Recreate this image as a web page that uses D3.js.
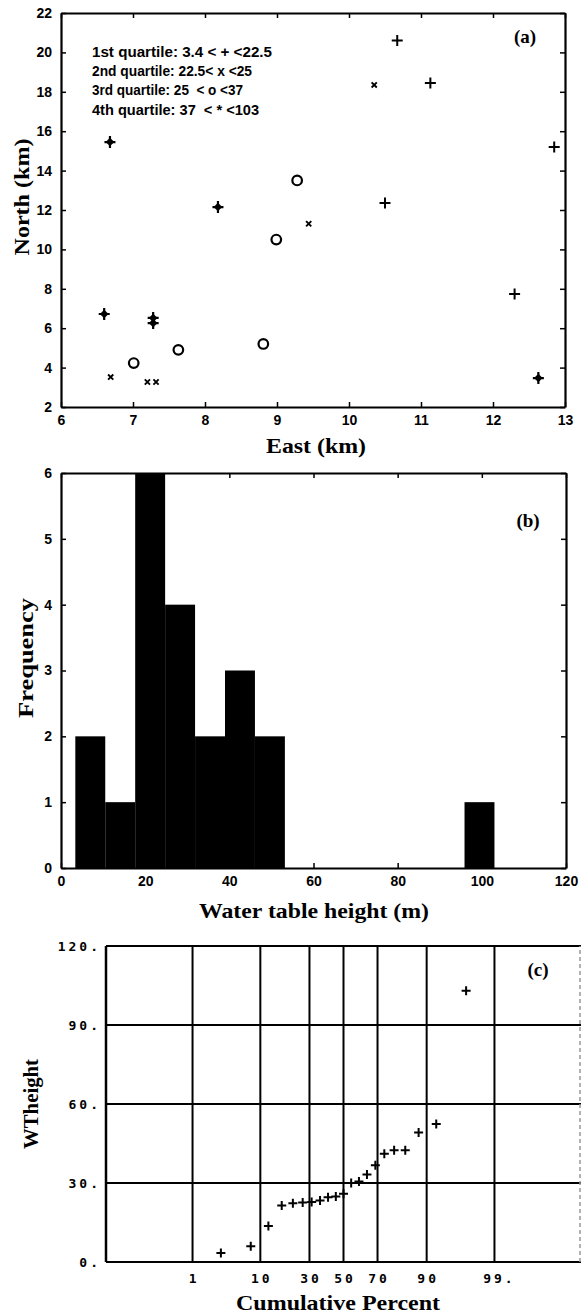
<!DOCTYPE html>
<html>
<head>
<meta charset="utf-8">
<script src="https://cdn.jsdelivr.net/npm/d3@7/dist/d3.min.js"></script>
<style>
  body { margin: 0; background: #fff; }
  svg { display: block; }
  .tick text { font-family: "Liberation Sans", Arial, sans-serif; font-weight: bold; font-size: 14px; fill: #000; }
  .title { font-family: "Liberation Serif", "Times New Roman", serif; font-weight: bold; font-size: 22px; fill: #000; }
  .panel { font-family: "Liberation Serif", "Times New Roman", serif; font-weight: bold; font-size: 19px; fill: #000; }
  .legend { font-family: "Liberation Sans Narrow", "Liberation Sans", Arial, sans-serif; font-weight: bold; font-size: 14px; white-space: pre; }
  .mono { font-family: "DejaVu Sans Mono", monospace; font-weight: bold; font-size: 13px; letter-spacing: 3px; fill: #000; }
</style>
</head>
<body>
<svg id="fig" width="582" height="1316"></svg>
<script>
// ---- panel (a): well locations, marker = quartile of water table height
var pointEast  = [10.67, 11.13, 10.50, 12.85, 12.30,  10.35, 9.44, 6.69, 7.20, 7.32,  9.28, 8.99, 7.01, 7.63, 8.81,  6.68, 8.18, 6.60, 7.28, 7.28, 12.63];
var pointNorth = [20.60, 18.45, 12.35, 15.20, 7.74,   18.35, 11.30, 3.52, 3.27, 3.27, 13.50, 10.50, 4.23, 4.90, 5.20, 15.45, 12.15, 6.72, 6.52, 6.26, 3.47];
var pointClass = ["plus","plus","plus","plus","plus", "x","x","x","x","x", "o","o","o","o","o", "star","star","star","star","star","star"];
var legendLines = ["1st quartile: 3.4 < + <22.5", "2nd quartile: 22.5< x <25", "3rd quartile: 25  < o <37", "4th quartile: 37  < * <103"];
var legendWidths = [180, 160, 151, 167];
var eastTicks = [6, 7, 8, 9, 10, 11, 12, 13];
var northTicks = [2, 4, 6, 8, 10, 12, 14, 16, 18, 20, 22];

// ---- panel (b): histogram of water table height
var binLo = 3.4, binHi = 103;
var binCounts = [2, 1, 6, 4, 2, 3, 2, 0, 0, 0, 0, 0, 0, 1];
var heightTicks = [0, 20, 40, 60, 80, 100, 120];
var freqTicks = [0, 1, 2, 3, 4, 5, 6];

// ---- panel (c): normal probability plot
var wtHeight = [3.4, 6.0, 13.7, 21.5, 22.3, 22.6, 22.8, 23.4, 24.6, 24.9, 25.9, 30.0, 30.6, 33.2, 36.7, 41.1, 42.4, 42.4, 49.2, 52.4, 103];
var probTicks = [1, 10, 30, 50, 70, 90, 99];
var probLabels = ["1", "10", "30", "50", "70", "90", "99."];
var wtTicks = [0, 30, 60, 90, 120];

var svg = d3.select("#fig");

// inverse standard normal cdf (Acklam)
function norminv(p) {
  var a = [-3.969683028665376e+01, 2.209460984245205e+02, -2.759285104469687e+02, 1.383577518672690e+02, -3.066479806614716e+01, 2.506628277459239e+00];
  var b = [-5.447609879822406e+01, 1.615858368580409e+02, -1.556989798598866e+02, 6.680131188771972e+01, -1.328068155288572e+01];
  var c = [-7.784894002430293e-03, -3.223964580411365e-01, -2.400758277161838e+00, -2.549732539343734e+00, 4.374664141464968e+00, 2.938163982698783e+00];
  var d = [7.784695709041462e-03, 3.224671290700398e-01, 2.445134137142996e+00, 3.754408661907416e+00];
  var q, r;
  if (p < 0.02425) {
    q = Math.sqrt(-2 * Math.log(p));
    return (((((c[0]*q+c[1])*q+c[2])*q+c[3])*q+c[4])*q+c[5]) / ((((d[0]*q+d[1])*q+d[2])*q+d[3])*q+1);
  }
  if (p > 1 - 0.02425) {
    q = Math.sqrt(-2 * Math.log(1 - p));
    return -(((((c[0]*q+c[1])*q+c[2])*q+c[3])*q+c[4])*q+c[5]) / ((((d[0]*q+d[1])*q+d[2])*q+d[3])*q+1);
  }
  q = p - 0.5; r = q * q;
  return (((((a[0]*r+a[1])*r+a[2])*r+a[3])*r+a[4])*r+a[5])*q / (((((b[0]*r+b[1])*r+b[2])*r+b[3])*r+b[4])*r+1);
}

// box with inward ticks on all four sides (matlab style)
function frame(x, y, xTicks, yTicks) {
  var r = x.range(), t = y.range();
  var g = svg.append("g");
  g.append("g").attr("transform", "translate(0," + t[0] + ")")
    .call(d3.axisBottom(x).tickValues(xTicks).tickSize(-5).tickSizeOuter(0).tickPadding(8).tickFormat(d3.format("d")));
  g.append("g").attr("transform", "translate(0," + t[1] + ")")
    .call(d3.axisTop(x).tickValues(xTicks).tickSize(-5).tickSizeOuter(0).tickFormat(""));
  g.append("g").attr("transform", "translate(" + r[0] + ",0)")
    .call(d3.axisLeft(y).tickValues(yTicks).tickSize(-5).tickSizeOuter(0).tickPadding(9).tickFormat(d3.format("d")));
  g.append("g").attr("transform", "translate(" + r[1] + ",0)")
    .call(d3.axisRight(y).tickValues(yTicks).tickSize(-5).tickSizeOuter(0).tickFormat(""));
  g.selectAll(".domain").attr("stroke", "#000").attr("stroke-width", 2.2);
  g.selectAll(".tick line").attr("stroke", "#000").attr("stroke-width", 1.5);
  return g;
}

function title(txt, cx, cy, len, rot) {
  var t = svg.append("text").attr("class", "title")
    .attr("text-anchor", "middle").attr("dominant-baseline", "central")
    .attr("textLength", len).attr("lengthAdjust", "spacingAndGlyphs")
    .text(txt);
  if (rot) t.attr("transform", "translate(" + cx + "," + cy + ") rotate(-90)");
  else t.attr("x", cx).attr("y", cy);
}

// ================= (a)
var ax = d3.scaleLinear().domain([6, 13]).range([61, 565]);
var ay = d3.scaleLinear().domain([2, 22]).range([407, 13]);
frame(ax, ay, eastTicks, northTicks);

var marks = svg.append("g");
pointEast.forEach(function (e, i) {
  var g = marks.append("g").attr("transform", "translate(" + ax(e) + "," + ay(pointNorth[i]) + ")");
  var k = pointClass[i];
  if (k === "plus") {
    g.append("path").attr("d", "M-5.5,0H5.5M0,-5.5V5.5").attr("stroke", "#000").attr("stroke-width", 2);
  } else if (k === "x") {
    g.append("path").attr("d", "M-2.6,-2.6L2.6,2.6M-2.6,2.6L2.6,-2.6").attr("stroke", "#000").attr("stroke-width", 1.9);
  } else if (k === "o") {
    g.append("circle").attr("r", 4.8).attr("fill", "#fff").attr("stroke", "#000").attr("stroke-width", 2.2);
  } else {
    g.append("path").attr("d", "M-5.5,0H5.5M0,-6V6").attr("stroke", "#000").attr("stroke-width", 2.2);
    g.append("path").attr("d", "M0,-4.3L4.3,0L0,4.3L-4.3,0Z").attr("fill", "#000");
  }
});

svg.append("g").selectAll("text").data(legendLines).enter().append("text")
  .attr("class", "legend")
  .attr("x", 92)
  .attr("y", function (d, i) { return 57 + i * 19.2; })
  .attr("textLength", function (d, i) { return legendWidths[i]; })
  .attr("lengthAdjust", "spacingAndGlyphs")
  .text(function (d) { return d; });

svg.append("text").attr("class", "panel").attr("x", 525).attr("y", 43).attr("text-anchor", "middle").text("(a)");
title("North (km)", 21, 197, 117, true);
title("East (km)", 316, 445, 100, false);

// ================= (b)
var bx = d3.scaleLinear().domain([0, 120]).range([61, 566]);
var by = d3.scaleLinear().domain([0, 6]).range([868, 473]);
var binW = (binHi - binLo) / binCounts.length;
var bins = binCounts.map(function (c, i) { return { lo: binLo + i * binW, hi: binLo + (i + 1) * binW, n: c }; });
svg.append("g").selectAll("rect")
  .data(bins.filter(function (d) { return d.n > 0; }))
  .enter().append("rect")
  .attr("x", function (d) { return bx(d.lo); })
  .attr("width", function (d) { return bx(d.hi) - bx(d.lo); })
  .attr("y", function (d) { return by(d.n); })
  .attr("height", function (d) { return by(0) - by(d.n); })
  .attr("fill", "#000");
frame(bx, by, heightTicks, freqTicks);
svg.append("text").attr("class", "panel").attr("x", 528).attr("y", 527).attr("text-anchor", "middle").text("(b)");
title("Frequency", 25, 658, 120, true);
title("Water table height (m)", 314, 910, 230, false);

// ================= (c)
var cx = d3.scaleLinear().domain([-3.66, 3.66]).range([106, 581]);
var cy = d3.scaleLinear().domain([0, 120]).range([1262, 946]);
var gc = svg.append("g");
gc.selectAll("line.h").data(wtTicks).enter().append("line")
  .attr("x1", cx.range()[0]).attr("x2", cx.range()[1])
  .attr("y1", function (d) { return cy(d); }).attr("y2", function (d) { return cy(d); })
  .attr("stroke", "#000").attr("stroke-width", 2);
gc.selectAll("line.v").data(probTicks).enter().append("line")
  .attr("x1", function (d) { return cx(norminv(d / 100)); }).attr("x2", function (d) { return cx(norminv(d / 100)); })
  .attr("y1", cy.range()[0]).attr("y2", cy.range()[1])
  .attr("stroke", "#000").attr("stroke-width", 2);
gc.append("line").attr("x1", cx.range()[0]).attr("x2", cx.range()[0])
  .attr("y1", cy.range()[0]).attr("y2", cy.range()[1]).attr("stroke", "#000").attr("stroke-width", 2.5);
gc.append("line").attr("x1", cx.range()[1] - 1).attr("x2", cx.range()[1] - 1)
  .attr("y1", cy.range()[0]).attr("y2", cy.range()[1]).attr("stroke", "#999").attr("stroke-width", 1.5)
  .attr("stroke-dasharray", "4,3");

gc.selectAll("text.yl").data(wtTicks).enter().append("text").attr("class", "mono")
  .attr("x", 101).attr("y", function (d) { return cy(d) + 4.5; })
  .attr("text-anchor", "end").text(function (d) { return d + "."; });
gc.selectAll("text.xl").data(probTicks).enter().append("text").attr("class", "mono")
  .attr("x", function (d, i) { return cx(norminv(d / 100)) + (probLabels[i].length > 2 ? 5 : 1.5); })
  .attr("y", 1283)
  .attr("text-anchor", "middle").text(function (d, i) { return probLabels[i]; });

var n = wtHeight.length;
gc.selectAll("path.pt").data(wtHeight).enter().append("path")
  .attr("transform", function (d, i) { return "translate(" + cx(norminv((i + 1 - 0.375) / (n + 0.25))) + "," + cy(d) + ")"; })
  .attr("d", "M-4.5,0H4.5M0,-4.5V4.5").attr("stroke", "#000").attr("stroke-width", 2);

svg.append("text").attr("class", "panel").attr("x", 538).attr("y", 976).attr("text-anchor", "middle").text("(c)");
title("WTheight", 30, 1104, 90, true);
title("Cumulative Percent", 338, 1302, 204, false);
</script>
</body>
</html>
